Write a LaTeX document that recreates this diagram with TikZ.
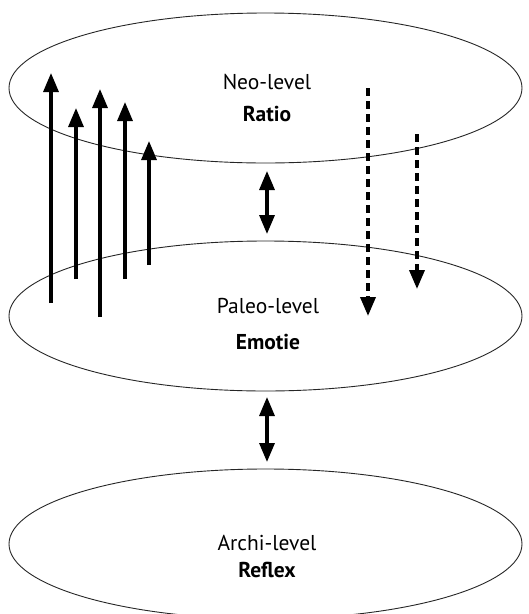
\documentclass[tikz,border=0pt]{standalone}
\usepackage{fontspec}
\setmainfont{PT Sans}
\usetikzlibrary{arrows.meta,shapes.geometric}
\begin{document}
\begin{tikzpicture}[x=1pt,y=-1pt,
  level/.style={draw=black!85,line width=0.9pt,ellipse,minimum width=513pt,minimum height=150pt,inner sep=0pt},
  lbl/.style={font=\fontsize{21.5}{24}\selectfont,inner sep=0pt},
  blbl/.style={font=\fontsize{21.5}{24}\selectfont\bfseries,inner sep=0pt},
  uparrow/.style={line width=3.3pt,-{Triangle[width=15pt,length=19pt]}},
  dblarrow/.style={line width=3.3pt,{Triangle[width=15pt,length=19pt]}-{Triangle[width=15pt,length=19pt]}},
  dasharrow/.style={line width=3.6pt,dash pattern=on 8pt off 5pt,-{Triangle[width=15pt,length=19pt]}}]
\useasboundingbox (0,0) rectangle (529,614);
\clip (0,0) rectangle (529,614);
\node[level] (neo) at (265.5,88) {};
\node[level] (paleo) at (265.5,316) {};
\node[level] (archi) at (265.5,544) {};
\node[lbl] (neot) at (267,82) {Neo-level};
\node[blbl] (ratio) at (267,114) {Ratio};
\node[lbl] (paleot) at (268,306) {Paleo-level};
\node[blbl] (emotie) at (268,342) {Emotie};
\node[lbl] (archit) at (267,543) {Archi-level};
\node[blbl] (reflex) at (267,570) {Reflex};
% up arrows
\coordinate (u1s) at (51,303); \coordinate (u1e) at (51,73);
\coordinate (u2s) at (76,279); \coordinate (u2e) at (76,108);
\coordinate (u3s) at (100,317); \coordinate (u3e) at (100,89);
\coordinate (u4s) at (125,279); \coordinate (u4e) at (125,102);
\coordinate (u5s) at (149,265); \coordinate (u5e) at (149,141);
\draw[uparrow] (u1s) -- (u1e);
\draw[uparrow] (u2s) -- (u2e);
\draw[uparrow] (u3s) -- (u3e);
\draw[uparrow] (u4s) -- (u4e);
\draw[uparrow] (u5s) -- (u5e);
% double arrows
\coordinate (d1a) at (267,171); \coordinate (d1b) at (267,234);
\coordinate (d2a) at (267,397); \coordinate (d2b) at (267,462);
\draw[dblarrow] (d1a) -- (d1b);
\draw[dblarrow] (d2a) -- (d2b);
% dashed down arrows
\coordinate (w1s) at (368,88); \coordinate (w1e) at (368,316);
\coordinate (w2s) at (417,134); \coordinate (w2e) at (417,289);
\draw[dasharrow] (w1s) -- (w1e);
\draw[dasharrow] (w2s) -- (w2e);
\end{tikzpicture}
\end{document}
